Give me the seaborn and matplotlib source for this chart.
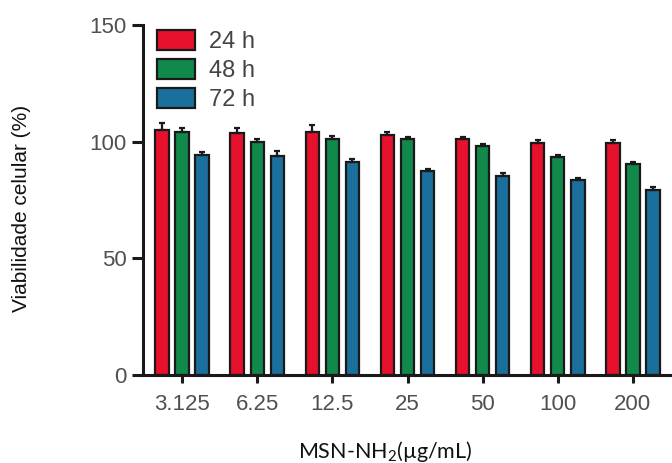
import matplotlib
matplotlib.use("Agg")
import matplotlib.pyplot as plt
import seaborn as sns
import pandas as pd
import numpy as np

concentrations = ["3.125", "6.25", "12.5", "25", "50", "100", "200"]
times = ["24 h", "48 h", "72 h"]
v24 = [105, 103.5, 104, 103, 101, 99.5, 99.5]
v48 = [104, 100, 101, 101, 98, 93.5, 90.5]
v72 = [94.5, 94, 91.5, 87.5, 85.5, 83.5, 79.5]
e24 = [3, 2.5, 3, 1, 1, 1, 1]
e48 = [2, 1, 1.5, 1, 1, 1, 1]
e72 = [1, 2, 1, 1, 1, 1, 1]
colors = ["#e8112d", "#11894a", "#1b6f9c"]

rows = []
for t, vals, errs in zip(times, [v24, v48, v72], [e24, e48, e72]):
    for c, v, e in zip(concentrations, vals, errs):
        rows.append({"conc": c, "time": t, "val": v, "err": e})
df = pd.DataFrame(rows)

sns.set_style("white")
plt.rcParams["font.family"] = ["Liberation Sans", "DejaVu Sans"]
plt.rcParams["mathtext.default"] = "regular"

fig = plt.figure(figsize=(6.72, 4.63), dpi=100)
ax = fig.add_axes([143/672, 1-375/463, 1-143/672, 350/463])

sns.barplot(data=df, x="conc", y="val", hue="time", order=concentrations,
            hue_order=times, palette=colors, errorbar=None, width=0.8, gap=0.33,
            edgecolor="#1a1a1a", linewidth=1.6, ax=ax, saturation=1)

# error bars from library bar positions
for cont, t in zip(ax.containers, times):
    sub = df[df.time == t].set_index("conc").loc[concentrations]
    xs = [p.get_x() + p.get_width()/2 for p in cont.patches]
    ax.errorbar(xs, sub["val"].values, yerr=[np.zeros(len(xs)), sub["err"].values],
                fmt="none", ecolor="#1a1a1a", elinewidth=1.6, capsize=2.5, capthick=1.6,
                zorder=1)

ax.set_ylim(0, 150)
ax.set_xlim(-0.52, 6.52)
ax.set_yticks([0, 50, 100, 150])
ax.set_xlabel("")
ax.set_ylabel("")
for s in ["top", "right"]:
    ax.spines[s].set_visible(False)
for s in ["left", "bottom"]:
    ax.spines[s].set_linewidth(2.2)
    ax.spines[s].set_color("#1a1a1a")
ax.tick_params(axis="y", length=8, width=2.2, color="#1a1a1a", labelsize=16,
               labelcolor="#505050", pad=4, left=True)
ax.tick_params(axis="x", length=6, width=2.2, color="#1a1a1a", labelsize=16,
               labelcolor="#505050", pad=8, bottom=True)

leg = ax.legend(loc="upper left", bbox_to_anchor=(0.026, 0.985), frameon=False,
                fontsize=17, handlelength=1.6, handleheight=0.9, labelspacing=0.25,
                handletextpad=0.62, borderaxespad=0, borderpad=0)
for txt in leg.get_texts():
    txt.set_color("#444444")
for h in leg.legend_handles:
    h.set_edgecolor("#1a1a1a")
    h.set_linewidth(1.6)

fig.text(385/672, 1-452/463, "MSN-NH$_2$(µg/mL)", ha="center", va="center",
         fontsize=15.5, family=["Lato", "DejaVu Sans"], color="#111111")
fig.text(22/672, 1-208/463, "Viabilidade celular (%)", ha="center", va="center",
         rotation=90, fontsize=15, color="#111111")

fig.savefig("out.png", dpi=100)
